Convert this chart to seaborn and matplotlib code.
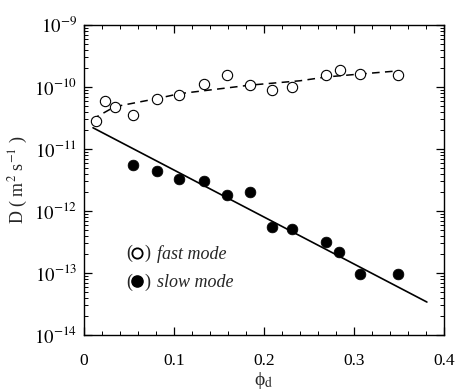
import numpy as np
import pandas as pd
import matplotlib
matplotlib.use("Agg")
import matplotlib.pyplot as plt
import seaborn as sns
from matplotlib.ticker import FixedLocator, LogLocator, NullFormatter, MultipleLocator

# ---- data ----
fast_phi = [0.013, 0.023, 0.034, 0.054, 0.081, 0.106, 0.133, 0.159,
            0.184, 0.209, 0.231, 0.269, 0.284, 0.307, 0.349]
fast_D = [2.8e-11, 5.9e-11, 4.8e-11, 3.5e-11, 6.4e-11, 7.4e-11, 1.12e-10, 1.56e-10,
          1.07e-10, 8.9e-11, 1.0e-10, 1.56e-10, 1.87e-10, 1.6e-10, 1.56e-10]

slow_phi = [0.054, 0.081, 0.106, 0.133, 0.159, 0.184, 0.209, 0.231,
            0.269, 0.283, 0.307, 0.349]
slow_D = [5.5e-12, 4.5e-12, 3.3e-12, 3.0e-12, 1.8e-12, 2.0e-12, 5.5e-13, 5.1e-13,
          3.2e-13, 2.2e-13, 9.6e-14, 9.6e-14]

fast_fit_phi = [0.009, 0.034, 0.081, 0.106, 0.184, 0.240, 0.269, 0.307, 0.349]
fast_fit_D = [3.0e-11, 4.8e-11, 6.5e-11, 7.8e-11, 1.07e-10, 1.26e-10, 1.45e-10, 1.62e-10, 1.82e-10]

slow_fit_phi = [0.010, 0.381]
slow_fit_D = [2.2e-11, 3.4e-14]

xticks = [0, 0.1, 0.2, 0.3, 0.4]
xtick_labels = ["0", "0.1", "0.2", "0.3", "0.4"]
yticks = [1e-14, 1e-13, 1e-12, 1e-11, 1e-10, 1e-9]
ytick_labels = ["$10^{-14}$", "$10^{-13}$", "$10^{-12}$", "$10^{-11}$", "$10^{-10}$", "$10^{-9}$"]

fast_df = pd.DataFrame({"phi": fast_phi, "D": fast_D})
slow_df = pd.DataFrame({"phi": slow_phi, "D": slow_D})
fast_fit_df = pd.DataFrame({"phi": fast_fit_phi, "D": fast_fit_D})
slow_fit_df = pd.DataFrame({"phi": slow_fit_phi, "D": slow_fit_D})

sns.set_theme(style="ticks")
plt.rcParams["font.family"] = ["Liberation Serif", "DejaVu Serif"]
plt.rcParams["mathtext.fontset"] = "stix"

fig = plt.figure(figsize=(4.58, 3.91), dpi=100)
ax = fig.add_axes([84 / 458, 1 - 335 / 391, 360 / 458, 310 / 391])

sns.lineplot(data=fast_fit_df, x="phi", y="D", ax=ax, color="black",
             linewidth=1.1, dashes=False, sort=False, estimator=None)
ax.lines[-1].set_dashes([5, 3.5])
sns.lineplot(data=slow_fit_df, x="phi", y="D", ax=ax, color="black",
             linewidth=1.2, sort=False, estimator=None)

sns.scatterplot(data=fast_df, x="phi", y="D", ax=ax, marker="o", s=55,
                facecolor="white", edgecolor="black", linewidth=0.8, zorder=3)
sns.scatterplot(data=slow_df, x="phi", y="D", ax=ax, marker="o", s=60,
                color="black", edgecolor="black", linewidth=0.5, zorder=3)

ax.set_yscale("log")
ax.set_xlim(0, 0.4)
ax.set_ylim(1e-14, 1e-9)

ax.xaxis.set_major_locator(FixedLocator(xticks))
ax.set_xticklabels(xtick_labels)
ax.xaxis.set_minor_locator(MultipleLocator(0.02))
ax.yaxis.set_major_locator(FixedLocator(yticks))
ax.set_yticklabels(ytick_labels)
ax.yaxis.set_minor_locator(LogLocator(base=10, subs=np.arange(2, 10), numticks=20))
ax.yaxis.set_minor_formatter(NullFormatter())

ax.tick_params(which="both", direction="in", top=True, right=True, colors="black",
               labelsize=12.5)
ax.tick_params(axis="y", labelsize=13.5)
ax.tick_params(which="major", length=6, width=0.9)
ax.tick_params(which="minor", length=3, width=0.7)
ax.tick_params(axis="x", pad=13)
ax.tick_params(axis="y", pad=5)
for sp in ax.spines.values():
    sp.set_linewidth(1.0)
    sp.set_color("black")

ax.set_xlabel("\u03d5$_{\\rm d}$", fontsize=14, labelpad=1)
ax.set_ylabel(r"D ( m$^{2}$ s$^{-1}$ )", fontsize=13, labelpad=3)

# legend made of text and markers
ax.text(0.118, 0.262, "(", transform=ax.transAxes, fontsize=13, va="center", ha="left")
ax.text(0.168, 0.262, ")", transform=ax.transAxes, fontsize=13, va="center", ha="left")
ax.text(0.203, 0.262, "fast mode", transform=ax.transAxes, fontsize=13,
        style="italic", va="center", ha="left")
ax.scatter([0.147], [0.266], transform=ax.transAxes, s=55, facecolor="white",
           edgecolor="black", linewidths=1.3, zorder=4)
ax.text(0.118, 0.170, "(", transform=ax.transAxes, fontsize=13, va="center", ha="left")
ax.text(0.168, 0.170, ")", transform=ax.transAxes, fontsize=13, va="center", ha="left")
ax.text(0.203, 0.170, "slow mode", transform=ax.transAxes, fontsize=13,
        style="italic", va="center", ha="left")
ax.scatter([0.147], [0.174], transform=ax.transAxes, s=65, color="black", zorder=4)

fig.savefig("out.png", dpi=100)
